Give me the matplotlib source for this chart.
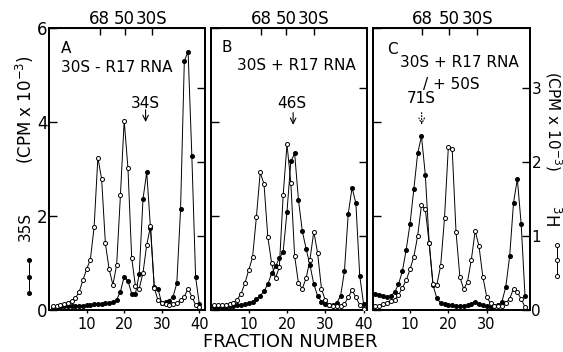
# Sucrose gradient profiles, 35S (filled) and 3H (open) counts per fraction.
import matplotlib
matplotlib.use('Agg')
import matplotlib.pyplot as plt
from matplotlib.lines import Line2D

# Fraction numbers.
fractions = list(range(1, 41))

# Panel A: 30S - R17 RNA.
a_35s = [0.07, 0.07, 0.07, 0.08, 0.08, 0.09, 0.09, 0.09, 0.09, 0.10,
         0.11, 0.12, 0.13, 0.13, 0.14, 0.15, 0.16, 0.22, 0.39, 0.71,
         0.62, 0.35, 0.35, 0.76, 2.36, 2.93, 1.74, 0.50, 0.45, 0.14,
         0.16, 0.20, 0.28, 0.57, 2.14, 5.30, 5.50, 3.28, 0.70, 0.12]
a_3h = [0.06, 0.06, 0.07, 0.08, 0.10, 0.12, 0.16, 0.24, 0.40, 0.55,
        0.68, 1.12, 2.06, 1.77, 0.90, 0.55, 0.34, 0.61, 1.55, 2.56,
        1.92, 0.70, 0.32, 0.29, 0.50, 0.88, 1.13, 0.30, 0.13, 0.10,
        0.08, 0.07, 0.08, 0.09, 0.14, 0.18, 0.29, 0.18, 0.07, 0.04]

# Panel B: 30S + R17 RNA.
b_35s = [0.06, 0.06, 0.07, 0.07, 0.08, 0.09, 0.10, 0.11, 0.13, 0.15,
         0.18, 0.23, 0.30, 0.40, 0.55, 0.78, 0.93, 1.10, 1.24, 2.09,
         3.16, 3.33, 2.34, 1.68, 1.30, 0.96, 0.55, 0.30, 0.18, 0.12,
         0.10, 0.10, 0.15, 0.30, 0.82, 2.05, 2.60, 2.27, 0.73, 0.13]
b_3h = [0.07, 0.07, 0.07, 0.07, 0.08, 0.10, 0.14, 0.22, 0.36, 0.54,
        0.71, 1.25, 1.86, 1.70, 0.98, 0.63, 0.43, 0.58, 1.55, 2.24,
        1.72, 0.73, 0.36, 0.29, 0.43, 0.68, 1.06, 0.77, 0.29, 0.13,
        0.07, 0.05, 0.05, 0.06, 0.08, 0.17, 0.27, 0.17, 0.07, 0.02]

# Panel C: 30S + R17 RNA + 50S.
c_35s = [0.35, 0.32, 0.30, 0.28, 0.30, 0.38, 0.55, 0.82, 1.28, 1.83,
         2.57, 3.33, 3.70, 2.87, 1.43, 0.53, 0.25, 0.15, 0.12, 0.10,
         0.10, 0.08, 0.08, 0.08, 0.10, 0.13, 0.18, 0.13, 0.10, 0.08,
         0.07, 0.08, 0.10, 0.18, 0.50, 1.15, 2.28, 2.79, 1.82, 0.30]
c_3h = [0.05, 0.06, 0.08, 0.10, 0.12, 0.14, 0.20, 0.30, 0.40, 0.55,
        0.72, 1.00, 1.42, 1.36, 0.90, 0.35, 0.34, 0.60, 1.24, 2.20,
        2.18, 1.06, 0.45, 0.28, 0.38, 0.68, 1.07, 0.86, 0.45, 0.18,
        0.09, 0.06, 0.05, 0.06, 0.10, 0.15, 0.29, 0.24, 0.15, 0.04]

# Marker positions (68, 50, 30S) on the top of each panel.
marker_labels = ['68', '50', '30S']
a_marker_pos = [13.5, 20.1, 27.3]
b_marker_pos = [13.3, 19.8, 27.0]
c_marker_pos = [13.2, 20.2, 27.6]

W, H = 563, 352
fig = plt.figure(figsize=(W / 100, H / 100), dpi=100)
plt.rcParams['font.family'] = 'DejaVu Sans'

panels = [
    dict(rect=(49, 28, 156, 282), xlim=(0, 41.5), y35=a_35s, y3h=a_3h,
         marks=a_marker_pos, xt=[10, 20, 30, 40]),
    dict(rect=(211, 28, 156, 282), xlim=(0.15, 40.9), y35=b_35s, y3h=b_3h,
         marks=b_marker_pos, xt=[10, 20, 30, 40]),
    dict(rect=(373, 28, 157, 282), xlim=(0.35, 41.3), y35=c_35s, y3h=c_3h,
         marks=c_marker_pos, xt=[10, 20, 30]),
]

axes = []
for i, p in enumerate(panels):
    x0, y0, w, h = p['rect']
    ax = fig.add_axes([x0 / W, 1 - (y0 + h) / H, w / W, h / H])
    ax.set_xlim(*p['xlim'])
    ax.set_ylim(0, 6)
    ax.plot(fractions, p['y35'], color='black', lw=0.7, marker='o', ms=2.6,
            mfc='black', mec='black', zorder=3)

    ax2 = ax.twinx()
    ax2.set_ylim(0, 3.81)
    ax2.plot(fractions, p['y3h'], color='black', lw=0.7, marker='o', ms=2.9,
             mfc='white', mec='black', mew=0.7, zorder=4)

    for a in (ax, ax2):
        for s in a.spines.values():
            s.set_linewidth(1.3)

    ax.set_xticks(p['xt'])
    ax.tick_params(axis='x', direction='out', length=2, width=1, pad=3, labelsize=10.5)
    ax.set_yticks([0, 2, 4, 6])
    ax.tick_params(axis='y', direction='in', length=6, width=1, pad=1, labelsize=12,
                   labelleft=(i == 0))
    ax2.set_yticks([1, 2, 3] if i < 2 else [0, 1, 2, 3])
    ax2.tick_params(axis='y', direction='in', length=6, width=1, pad=1, labelsize=11,
                    labelright=(i == 2))

    top = ax.secondary_xaxis('top')
    top.set_xticks(p['marks'], marker_labels)
    top.tick_params(direction='in', length=5, width=1, pad=0, labelsize=12)
    axes.append(ax)

ax_a, ax_b, ax_c = axes
arrow = dict(arrowstyle='->', lw=0.8, color='black', shrinkA=0, shrinkB=0)

# Panel annotations.
ax_a.text(0.075, 0.955, 'A', transform=ax_a.transAxes, fontsize=11, va='top')
ax_a.text(0.075, 0.885, '30S - R17 RNA', transform=ax_a.transAxes, fontsize=11, va='top')
ax_a.text(25.7, 4.4, '34S', ha='center', va='center', fontsize=11)
ax_a.annotate('', xy=(25.7, 4.0), xytext=(25.7, 4.26), arrowprops=arrow)

ax_b.text(0.07, 0.957, 'B', transform=ax_b.transAxes, fontsize=11, va='top')
ax_b.text(0.165, 0.895, '30S + R17 RNA', transform=ax_b.transAxes, fontsize=11, va='top')
ax_b.text(21.3, 4.4, '46S', ha='center', va='center', fontsize=11)
ax_b.annotate('', xy=(21.6, 3.94), xytext=(21.6, 4.2), arrowprops=arrow)

ax_c.text(0.09, 0.95, 'C', transform=ax_c.transAxes, fontsize=11, va='top')
ax_c.text(0.17, 0.905, '30S + R17 RNA', transform=ax_c.transAxes, fontsize=11, va='top')
ax_c.text(0.32, 0.828, '/ + 50S', transform=ax_c.transAxes, fontsize=11, va='top')
ax_c.text(13.0, 4.5, '71S', ha='center', va='center', fontsize=11)
ax_c.annotate('', xy=(13.05, 3.94), xytext=(13.05, 4.2),
              arrowprops=dict(arrowstyle='->', lw=0.8, color='black', ls=':',
                              shrinkA=0, shrinkB=0))

# Axis titles.
fig.text(290 / W, 1 - 342 / H, 'FRACTION NUMBER', ha='center', va='center', fontsize=13)
fig.text(25 / W, 1 - 110 / H, '(CPM x 10$^{-3}$)', rotation=90, ha='center', va='center', fontsize=12)
fig.text(25 / W, 1 - 226 / H, '35S', rotation=90, ha='center', va='center', fontsize=11)
fig.text(553 / W, 1 - 121 / H, '(CPM x 10$^{-3}$)', rotation=270, ha='center', va='center', fontsize=11)
fig.text(551 / W, 1 - 215 / H, '$^{3}$H', rotation=270, ha='center', va='center', fontsize=12)

# Small symbol keys beside the axis titles.
fig.add_artist(Line2D([29 / W] * 3, [1 - 260 / H, 1 - 277 / H, 1 - 293 / H],
                      transform=fig.transFigure, color='black', lw=0.7,
                      marker='o', ms=2.6, mfc='black'))
fig.add_artist(Line2D([557 / W] * 3, [1 - 245 / H, 1 - 260 / H, 1 - 276 / H],
                      transform=fig.transFigure, color='black', lw=0.7,
                      marker='o', ms=2.9, mfc='white', mew=0.7))

fig.savefig('out.png', dpi=100)
